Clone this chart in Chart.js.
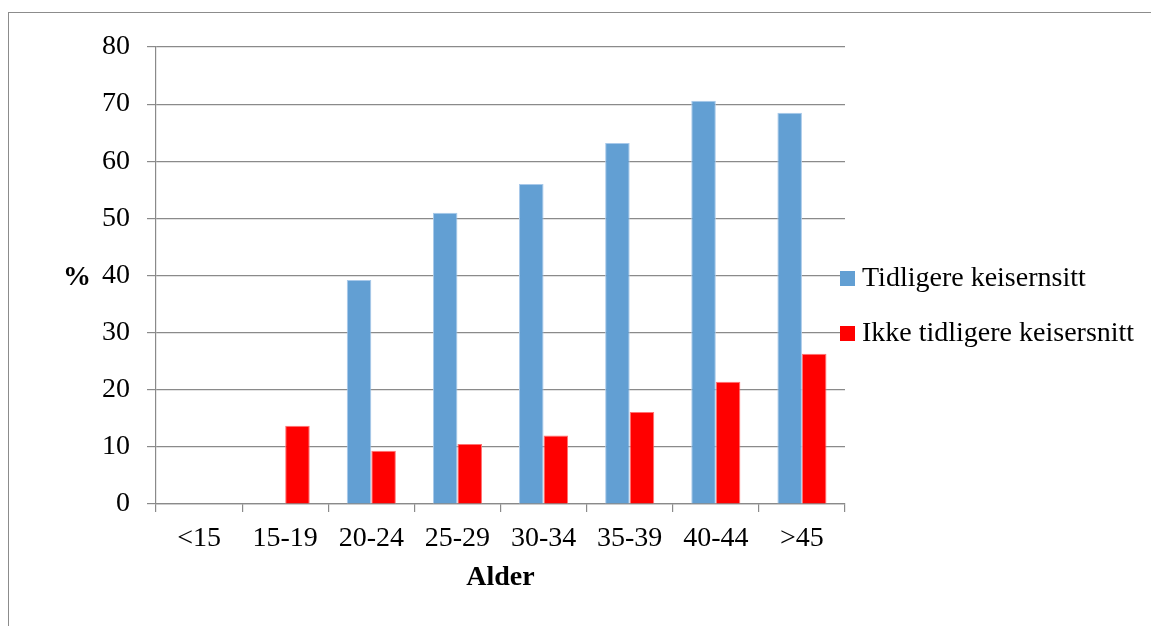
<!DOCTYPE html>
<html>
<head>
<meta charset="utf-8">
<script src="https://cdn.jsdelivr.net/npm/chart.js@4/dist/chart.umd.min.js"></script>
<style>
  html, body { margin: 0; padding: 0; background: #fff; overflow: hidden; }
  #wrap { position: relative; width: 1151px; height: 626px; }
  #frame { position: absolute; left: 8px; top: 12px; width: 1200px; height: 700px; border: 1px solid #8c8c8c; }
  canvas { position: absolute; left: 0; top: 0; }
</style>
</head>
<body>
<div id="wrap">
  <div id="frame"></div>
  <canvas id="chart" width="1151" height="626"></canvas>
</div>
<script>
// Age groups and share (%) for each group
var ageGroups = ['<15', '15-19', '20-24', '25-29', '30-34', '35-39', '40-44', '>45'];
var tidligere = [null, null, 39.2, 51.0, 56.0, 63.2, 70.6, 68.5];
var ikkeTidligere = [null, 13.7, 9.3, 10.5, 12.0, 16.1, 21.4, 26.3];
var seriesNames = ['Tidligere keisernsitt', 'Ikke tidligere keisersnitt'];

var fontFamily = '"Liberation Serif", "Times New Roman", serif';
var gridColor = '#8a8a8a';

// draws the "%" label and the legend on the right
var extras = {
    id: 'extras',
    afterDraw: function (chart) {
        var ctx = chart.ctx;
        var area = chart.chartArea;
        var midY = 278;
        ctx.save();
        ctx.fillStyle = '#000';
        ctx.textBaseline = 'middle';
        ctx.textAlign = 'center';
        ctx.font = 'bold 28px ' + fontFamily;
        ctx.fillText('%', 77, midY);

        ctx.textAlign = 'left';
        ctx.font = '28px ' + fontFamily;
        chart.data.datasets.forEach(function (ds, i) {
            var y = midY + i * 55;
            ctx.fillStyle = ds.backgroundColor;
            ctx.fillRect(area.right - 5, y - 7, 15, 15);
            ctx.fillStyle = '#000';
            ctx.fillText(ds.label, area.right + 17, y + 1);
        });
        ctx.restore();
    }
};

var ctx = document.getElementById('chart').getContext('2d');

var chart = new Chart(ctx, {
    type: 'bar',
    data: {
        labels: ageGroups,
        datasets: [{
            label: seriesNames[0],
            data: tidligere,
            backgroundColor: '#629fd3',
            borderColor: '#a8c9ea',
            borderWidth: 1
        }, {
            label: seriesNames[1],
            data: ikkeTidligere,
            backgroundColor: '#ff0000',
            borderColor: '#ff7373',
            borderWidth: 1
        }]
    },
    options: {
        responsive: false,
        animation: false,
        layout: {
            padding: { left: 0, top: 47, right: 306, bottom: 31 }
        },
        datasets: {
            bar: { categoryPercentage: 0.57, barPercentage: 1.0 }
        },
        plugins: {
            legend: { display: false },
            tooltip: { enabled: false }
        },
        scales: {
            x: {
                afterFit: function (scale) { scale.height = 91; },
                grid: {
                    drawOnChartArea: false,
                    drawTicks: true,
                    tickLength: 8,
                    color: gridColor,
                    lineWidth: 1.2,
                    offset: true
                },
                border: { color: gridColor, width: 1.2 },
                ticks: {
                    color: '#000',
                    padding: 10,
                    font: { family: fontFamily, size: 28 }
                },
                title: {
                    display: true,
                    text: 'Alder',
                    color: '#000',
                    padding: { top: 7, bottom: 0 },
                    font: { family: fontFamily, size: 28, weight: 'bold' }
                }
            },
            y: {
                min: 0,
                max: 80,
                afterFit: function (scale) { scale.width = 156; },
                grid: {
                    color: gridColor,
                    lineWidth: 1.2,
                    tickLength: 9
                },
                border: { color: gridColor, width: 1.2 },
                ticks: {
                    stepSize: 10,
                    color: '#000',
                    padding: 17,
                    font: { family: fontFamily, size: 28 }
                }
            }
        }
    },
    plugins: [extras]
});
</script>
</body>
</html>
